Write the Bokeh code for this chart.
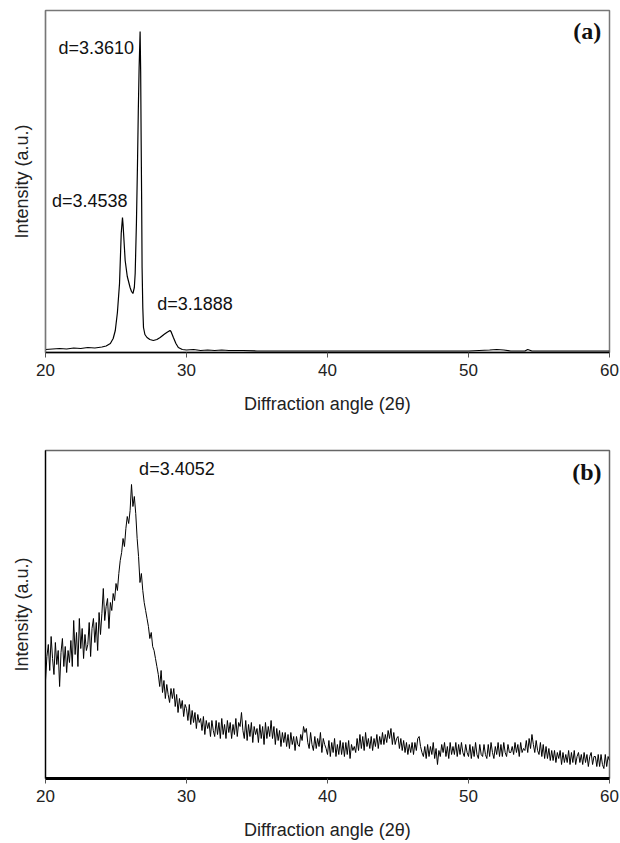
from bokeh.plotting import figure
from bokeh.layouts import column
from bokeh.models import Range1d, FixedTicker, Label
from bokeh.embed import file_html
from bokeh.resources import INLINE

# ---------------- data ----------------
x_ticks = [20, 30, 40, 50, 60]

# panel (a)
a_angle = [20, 20.5, 21, 21.5, 22, 22.5, 23, 23.5, 24, 24.3, 24.6, 24.8, 24.95,
           25.1, 25.25, 25.37, 25.46, 25.5, 25.65, 25.8, 26.0, 26.1, 26.2, 26.3,
           26.36, 26.45, 26.52, 26.58, 26.64, 26.71, 26.75, 26.78, 26.82, 26.85,
           26.9, 26.95, 27.05, 27.2, 27.4, 27.65, 27.9, 28.13, 28.4, 28.6, 28.83,
           28.9, 29.07, 29.25, 29.42, 29.7, 30.0, 30.5, 31, 31.5, 32, 32.5, 33,
           34, 35, 38, 42, 46, 50, 51.5, 52, 52.5, 53, 54, 54.2, 54.5, 56, 58, 60]
a_intensity = [3, 3.5, 4, 3.5, 4.5, 4, 5, 4.5, 5.5, 6.5, 9, 14, 22,
               40, 69, 119, 135, 128, 92, 76, 65, 61, 59, 65,
               79, 130, 185, 240, 285, 321, 280, 219, 150, 85,
               45, 25, 18, 15, 13, 12, 13, 15, 18, 20, 22,
               21, 15, 9, 5, 3, 2.5, 3, 2, 2.5, 2, 2.5, 2,
               2, 1.5, 1.5, 1.5, 1.5, 1.5, 2.5, 3, 2.5, 1.5, 1.5, 3, 1.5, 1.5, 1.5, 1.5]
a_labels = ["d=3.3610", "d=3.4538", "d=3.1888"]
a_label_x = [20.92, 20.46, 27.92]
a_label_y = [305, 152, 49]

# panel (b): one value every 0.1 degree from 20.0 to 60.0
b_intensity = (
    [98, 122, 134, 108, 142, 120, 104, 136, 114, 128] +
    [92, 126, 140, 112, 132, 106, 128, 116, 138, 112] +
    [158, 124, 146, 112, 160, 130, 150, 120, 144, 128] +
    [134, 156, 122, 150, 160, 136, 156, 128, 166, 144] +
    [165, 190, 158, 172, 180, 150, 176, 168, 185, 178] +
    [195, 188, 205, 218, 226, 240, 232, 250, 262, 255] +
    [268, 294, 272, 282, 265, 240, 222, 196, 205, 188] +
    [176, 168, 160, 152, 140, 146, 132, 128, 120, 112] +
    [104, 92, 108, 86, 98, 80, 94, 84, 76, 90] +
    [80, 90, 72, 84, 66, 80, 70, 78, 62, 74] +
    [70, 58, 74, 54, 68, 56, 66, 50, 64, 56] +
    [60, 48, 62, 44, 58, 50, 56, 42, 58, 48] +
    [42, 58, 44, 56, 40, 60, 44, 54, 40, 58] +
    [46, 56, 40, 54, 44, 60, 42, 56, 52, 66] +
    [48, 40, 58, 38, 54, 42, 56, 36, 52, 44] +
    [50, 36, 54, 40, 52, 34, 56, 40, 52, 42] +
    [58, 40, 52, 34, 50, 38, 48, 32, 46, 36] +
    [46, 32, 44, 30, 46, 34, 42, 28, 42, 34] +
    [32, 44, 38, 52, 46, 50, 36, 30, 46, 34] +
    [28, 42, 30, 40, 32, 46, 26, 40, 34, 30] +
    [24, 38, 22, 36, 26, 40, 22, 34, 24, 38] +
    [24, 36, 22, 36, 24, 38, 20, 34, 28, 32] +
    [26, 40, 28, 44, 30, 42, 28, 46, 32, 40] +
    [30, 42, 28, 40, 32, 44, 30, 42, 34, 46] +
    [34, 44, 36, 48, 40, 50, 34, 46, 34, 40] +
    [42, 30, 40, 28, 38, 26, 36, 24, 34, 26] +
    [36, 24, 36, 28, 40, 42, 32, 26, 22, 32] +
    [20, 34, 22, 32, 24, 36, 20, 30, 14, 28] +
    [22, 34, 26, 36, 22, 32, 20, 36, 24, 32] +
    [24, 36, 22, 34, 24, 36, 26, 22, 34, 26] +
    [22, 34, 20, 32, 22, 36, 24, 20, 34, 24] +
    [22, 34, 24, 20, 34, 22, 36, 26, 20, 32] +
    [24, 36, 22, 34, 22, 36, 26, 22, 34, 26] +
    [26, 32, 24, 36, 26, 34, 22, 36, 26, 30] +
    [28, 38, 26, 40, 30, 44, 34, 26, 38, 28] +
    [24, 36, 22, 34, 20, 32, 20, 30, 18, 28] +
    [18, 28, 16, 26, 20, 28, 14, 26, 16, 24] +
    [16, 28, 14, 26, 16, 28, 14, 22, 26, 16] +
    [24, 14, 26, 16, 24, 12, 22, 26, 14, 22] +
    [22, 12, 24, 12, 24, 14, 10, 24, 12, 22] +
    [18]
)
b_angle = [20 + i / 10 for i in range(len(b_intensity))]
b_labels = ["d=3.4052"]
b_label_x = [26.64]
b_label_y = [310]

FONT = "Liberation Sans"


def make_panel(height, top, bottom, left, right, ymax, outline, yline, xwidth):
    p = figure(width=620, height=height, output_backend="svg", toolbar_location=None,
               x_range=Range1d(20, 60), y_range=Range1d(0, ymax),
               min_border_top=top, min_border_bottom=bottom,
               min_border_left=left, min_border_right=right)
    p.grid.visible = False
    p.outline_line_color = outline
    p.outline_line_width = 1.5
    p.background_fill_color = "white"
    p.border_fill_color = "white"
    xa = p.xaxis[0]
    xa.ticker = FixedTicker(ticks=x_ticks)
    xa.axis_line_color = "black"
    xa.axis_line_width = xwidth
    xa.major_tick_line_color = "#555555"
    xa.major_tick_out = 5
    xa.major_tick_in = 0
    xa.minor_tick_line_color = None
    xa.major_label_text_font = FONT
    xa.major_label_text_font_size = "17px"
    xa.major_label_text_color = "#222222"
    xa.major_label_standoff = 6
    xa.axis_label = "Diffraction angle (2θ)"
    xa.axis_label_text_font = FONT
    xa.axis_label_text_font_size = "18px"
    xa.axis_label_text_font_style = "normal"
    xa.axis_label_text_color = "#222222"
    xa.axis_label_standoff = 15
    ya = p.yaxis[0]
    ya.ticker = FixedTicker(ticks=[])
    ya.axis_line_color = yline
    ya.axis_line_width = 1.2
    ya.major_tick_line_color = None
    ya.minor_tick_line_color = None
    ya.axis_label = "Intensity (a.u.)"
    ya.axis_label_text_font = FONT
    ya.axis_label_text_font_size = "18px"
    ya.axis_label_text_font_style = "normal"
    ya.axis_label_text_color = "#222222"
    ya.axis_label_standoff = 14
    return p


pa = make_panel(430, 10, 78, 45, 9, 342, "#777777", "#777777", 1.5)
pa.line(a_angle, a_intensity, line_color="black", line_width=1.2)
for t, x, y in zip(a_labels, a_label_x, a_label_y):
    pa.add_layout(Label(x=x, y=y, text=t, text_font=FONT, text_font_size="18px",
                        text_color="#111111", text_baseline="middle", text_align="left"))
pa.add_layout(Label(x=59.42, y=322, text="(a)", text_font="Liberation Serif",
                    text_font_size="24px", text_font_style="bold", text_color="#111111",
                    text_baseline="middle", text_align="right"))

pb = make_panel(413, 20, 65, 43, 11, 328, "#666666", "black", 3)
pb.line(b_angle, b_intensity, line_color="black", line_width=1)
for t, x, y in zip(b_labels, b_label_x, b_label_y):
    pb.add_layout(Label(x=x, y=y, text=t, text_font=FONT, text_font_size="18px",
                        text_color="#111111", text_baseline="middle", text_align="left"))
pb.add_layout(Label(x=59.44, y=307, text="(b)", text_font="Liberation Serif",
                    text_font_size="24px", text_font_style="bold", text_color="#111111",
                    text_baseline="middle", text_align="right"))

layout = column(pa, pb, spacing=0)
open("out.html", "w").write(file_html(layout, INLINE))
